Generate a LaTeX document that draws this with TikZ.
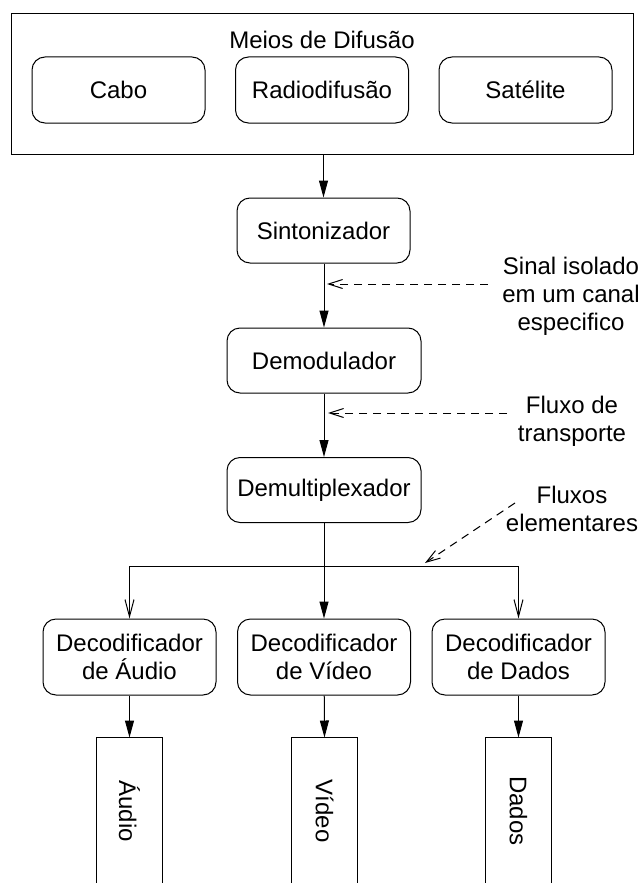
\documentclass[tikz,border=0pt]{standalone}
\usepackage{fontspec}
\setmainfont{Liberation Sans}
\usetikzlibrary{arrows.meta}
\begin{document}
\begin{tikzpicture}[x=1pt,y=-1pt,
  line width=1pt,
  font=\fontsize{24}{28}\selectfont,
  box/.style={draw, rounded corners=13pt, align=center, inner sep=0pt},
  media/.style={box, minimum width=173pt, minimum height=66pt},
  stage/.style={box, minimum width=194pt, minimum height=65pt},
  decoder/.style={box, minimum width=173pt, minimum height=76pt},
  outbox/.style={minimum width=65pt, minimum height=146pt, inner sep=0pt},
  flow/.style={-{Triangle[length=17pt,width=9pt]}},
  branch/.style={-{Straight Barb[length=17pt,width=9pt]}},
  note/.style={dash pattern=on 8pt off 6pt, -{Straight Barb[length=14pt,width=9pt]}},
  notetext/.style={align=center}
]
\useasboundingbox (0,0) rectangle (643,883);

% broadcast media
\node[draw, minimum width=622pt, minimum height=140pt, inner sep=0pt] (difusao) at (322,84) {};
\node (titulo) at (322,40) {Meios de Difusão};
\node[media] (cabo) at (118.5,90) {Cabo};
\node[media] (radio) at (322,90) {Radiodifusão};
\node[media] (satelite) at (525.5,90) {Satélite};

% receiver chain
\node[box, minimum width=173pt, minimum height=65pt] (sint) at (323.5,230.5) {Sintonizador};
\node[stage] (demod) at (324,360.5) {Demodulador};
\node[stage] (demux) at (324,490) {Demultiplexador};

% decoders
\node[decoder] (adec) at (129.5,657) {Decodificador\\de Áudio};
\node[decoder] (vdec) at (324,657) {Decodificador\\de Vídeo};
\node[decoder] (ddec) at (518.5,657) {Decodificador\\de Dados};

% outputs (open at the bottom)
\node[outbox] (aout) at (129.5,811) {};
\node[outbox] (vout) at (324.5,811) {};
\node[outbox] (dout) at (518.5,811) {};
\foreach \o in {aout,vout,dout}
  \draw (\o.south west) -- (\o.north west) -- (\o.north east) -- (\o.south east);
\node[rotate=-90] (atxt) at (aout.center) {Áudio};
\node[rotate=-90] (vtxt) at (vout.center) {Vídeo};
\node[rotate=-90] (dtxt) at (dout.center) {Dados};

% main signal path
\draw[flow] (difusao.south -| sint) -- (sint);
\draw[flow] (sint.south -| demod) -- (demod);
\draw[flow] (demod) -- (demux);
\draw[flow] (demux) -- (vdec);
\coordinate (split) at (324,566);
\draw[branch] (split) -| (adec.north);
\draw[branch] (split) -| (ddec.north);

\draw[flow] (adec) -- (aout.north);
\draw[flow] (vdec) -- (vout.north);
\draw[flow] (ddec) -- (dout.north);

% annotations
\node[notetext] (n1) at (571,296) {Sinal isolado\\em um canal\\especifico};
\node[notetext] (n2) at (572,421) {Fluxo de\\transporte};
\node[notetext] (n3) at (572,509) {Fluxos\\elementares};
\coordinate (n1a) at (488,284);
\coordinate (n1b) at (327,284);
\coordinate (n2a) at (507,413);
\coordinate (n2b) at (328,413);
\coordinate (n3a) at (515,503);
\coordinate (n3b) at (425,563);
\draw[note] (n1a) -- (n1b);
\draw[note] (n2a) -- (n2b);
\draw[note] (n3a) -- (n3b);
\end{tikzpicture}
\end{document}
